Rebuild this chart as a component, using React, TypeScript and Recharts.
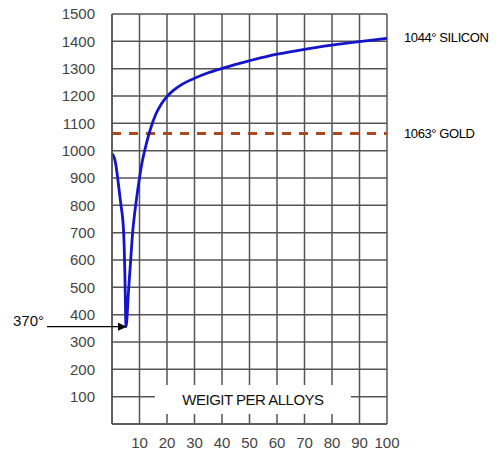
import React from 'react';
import { LineChart, Line, XAxis, YAxis, CartesianGrid, ReferenceLine, ReferenceArea } from 'recharts';

const siliconPct = [0, 0.5, 1, 1.5, 2, 2.6, 3.3, 3.8, 4.1, 4.4, 4.7, 5.1, 6, 7, 7.5, 8, 9, 10, 11, 12, 13, 14, 16, 18, 20, 22, 25, 30, 35, 40, 45, 50, 60, 70, 80, 90, 100];
const temperature = [988, 982, 968, 942, 905, 855, 798, 760, 725, 660, 540, 356, 485, 630, 700, 750, 830, 900, 960, 1005, 1045, 1080, 1135, 1172, 1198, 1218, 1240, 1265, 1285, 1301, 1316, 1329, 1353, 1371, 1386, 1399, 1411];
const xTicks = [0, 10, 20, 30, 40, 50, 60, 70, 80, 90, 100];
const yTicks = [0, 100, 200, 300, 400, 500, 600, 700, 800, 900, 1000, 1100, 1200, 1300, 1400, 1500];
const goldMelt = 1063;
const goldLabel = '1063° GOLD';
const siliconLabel = '1044° SILICON';
const eutecticLabel = '370°';
const axisTitle = 'WEIGIT PER ALLOYS';
const titleBox = { x1: 15.6, x2: 86.9, y1: 37, y2: 143 };

const data = siliconPct.map((x, i) => ({ x, t: temperature[i] }));
const minIndex = temperature.indexOf(Math.min(...temperature));
const lastIndex = data.length - 1;

const FONT = '"Liberation Sans", Arial, sans-serif';

const renderDot = (props: any) => {
  const { cx, cy, index } = props;
  if (index === minIndex) {
    return (
      <g key={`d${index}`}>
        <line x1={cx - 79} y1={cy} x2={cx - 6} y2={cy} stroke="#000" strokeWidth={1.2} />
        <polygon points={`${cx + 1},${cy} ${cx - 8},${cy - 4} ${cx - 8},${cy + 4}`} fill="#000" />
        <text x={cx - 82} y={cy - 5} textAnchor="end" dominantBaseline="middle" fontFamily={FONT} fontSize={15} fill="#111">
          {eutecticLabel}
        </text>
      </g>
    );
  }
  if (index === lastIndex) {
    return (
      <text key={`d${index}`} x={cx + 17} y={cy} textAnchor="start" dominantBaseline="middle" fontFamily={FONT} fontSize={13} letterSpacing={-0.4} fill="#000">
        {siliconLabel}
      </text>
    );
  }
  return <g key={`d${index}`} />;
};

export default function App() {
  return (
    <div style={{ position: 'absolute', left: 0, top: 0, background: '#fff' }}>
      <LineChart width={496} height={452} data={data} margin={{ top: 14, right: 109, bottom: 0, left: 0 }}>
        <CartesianGrid stroke="#555" strokeWidth={1.5} />
        <XAxis
          dataKey="x"
          type="number"
          domain={[0, 100]}
          ticks={xTicks}
          height={28}
          tickFormatter={(v: number) => (v === 0 ? '' : String(v))}
          tickLine={false}
          tickSize={6}
          tickMargin={7}
          axisLine={{ stroke: '#555', strokeWidth: 1.5 }}
          tick={{ fill: '#444', fontSize: 15, fontFamily: FONT }}
        />
        <YAxis
          type="number"
          domain={[0, 1500]}
          ticks={yTicks}
          width={112}
          tickFormatter={(v: number) => (v === 0 ? '' : String(v))}
          tickLine={false}
          tickSize={6}
          tickMargin={11}
          axisLine={{ stroke: '#555', strokeWidth: 1.5 }}
          tick={{ fill: '#444', fontSize: 15, fontFamily: FONT }}
        />
        <ReferenceArea
          x1={titleBox.x1}
          x2={titleBox.x2}
          y1={titleBox.y1}
          y2={titleBox.y2}
          fill="#fff"
          fillOpacity={1}
          stroke="none"
          label={{ value: axisTitle, position: 'center', fill: '#111', fontSize: 15, fontFamily: FONT, letterSpacing: -0.5 }}
        />
        <ReferenceLine
          y={goldMelt}
          stroke="#a84a1c"
          strokeWidth={3}
          strokeDasharray="9 8"
          label={{ value: goldLabel, position: 'right', offset: 17, fill: '#000', fontSize: 13, fontFamily: FONT, letterSpacing: -0.4 }}
        />
        <Line
          type="monotone"
          dataKey="t"
          stroke="#1414c8"
          strokeWidth={2.8}
          dot={renderDot}
          activeDot={false}
          isAnimationActive={false}
        />
      </LineChart>
    </div>
  );
}
